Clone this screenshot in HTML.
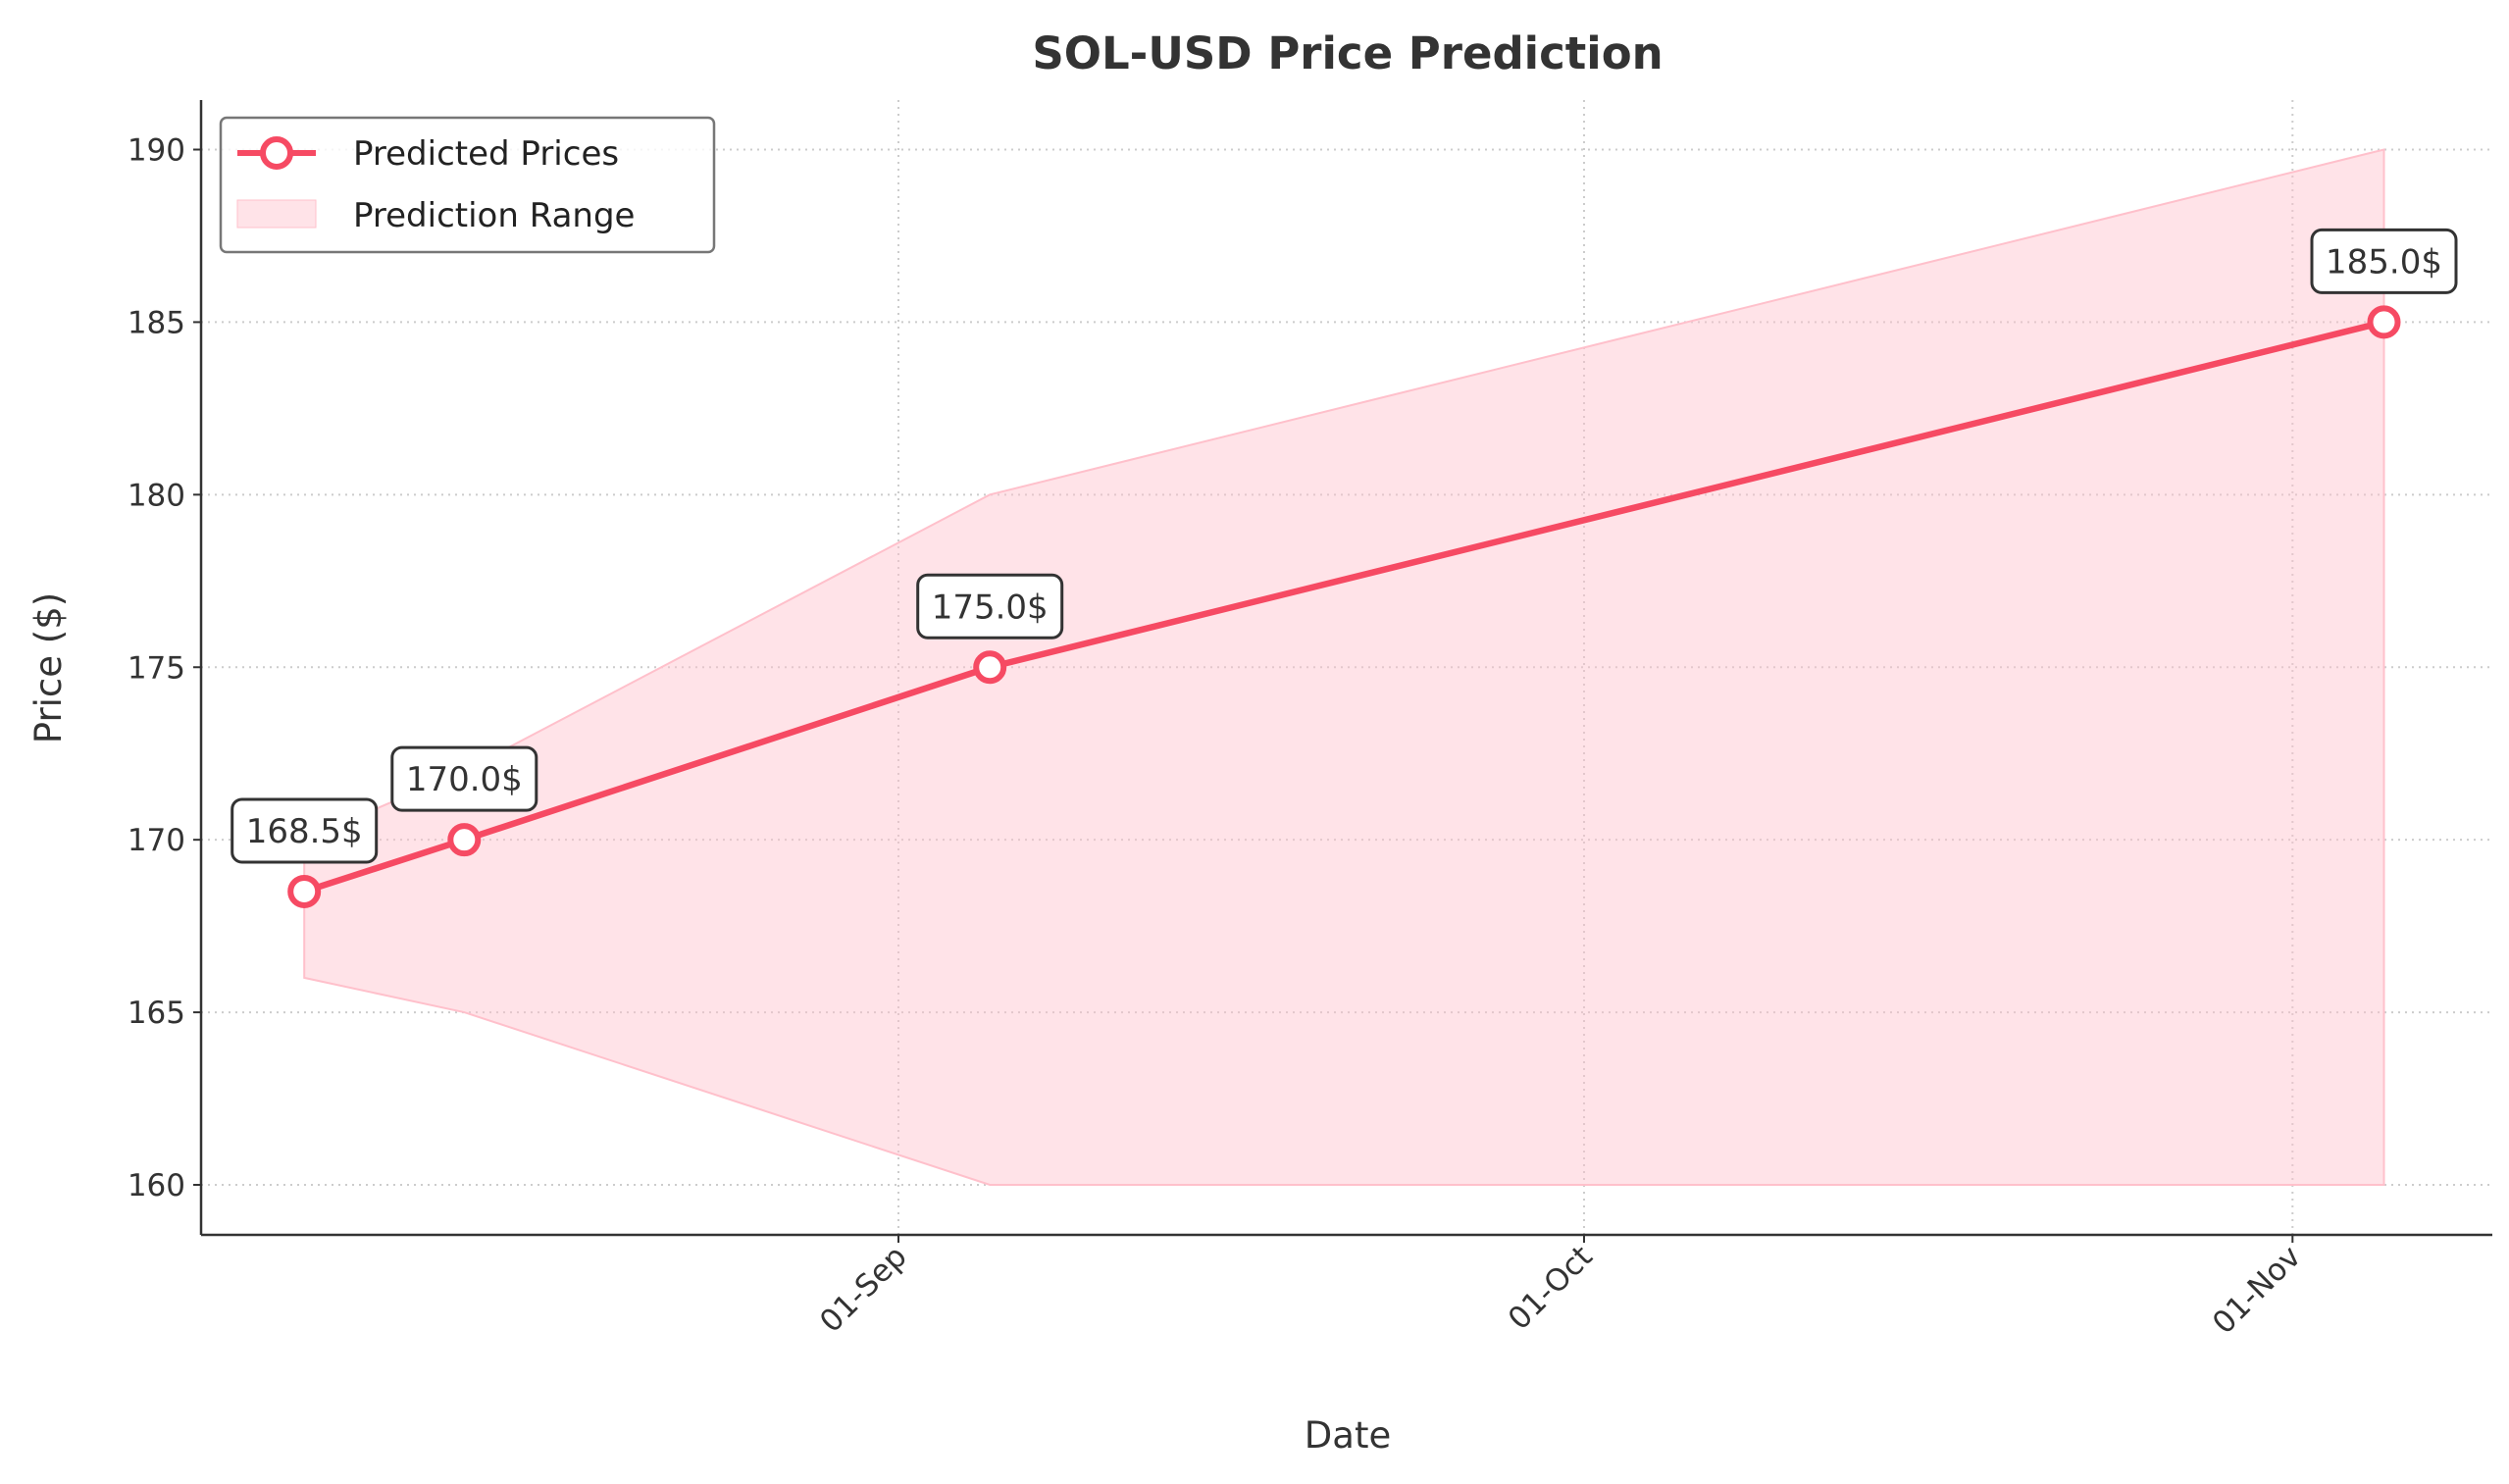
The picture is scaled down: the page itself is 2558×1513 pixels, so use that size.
<!DOCTYPE html>
<html><head><meta charset="utf-8"><style>
body{margin:0;background:#fff}
svg{display:block;font-family:"DejaVu Sans","Liberation Sans",sans-serif}
</style></head><body>
<svg id="chart" width="2558" height="1513" viewBox="0 0 2558 1513">
<text x="1374" y="70" text-anchor="middle" font-size="45" font-weight="bold" fill="#333">SOL-USD Price Prediction</text>
<g id="grid"></g>
<g id="band"></g>
<g id="line"></g>
<g id="axes"></g>
<text x="1374" y="1476" text-anchor="middle" font-size="37" fill="#333">Date</text>
<text transform="translate(62,681) rotate(-90)" text-anchor="middle" font-size="37" fill="#333">Price ($)</text>
<g>
<rect x="225" y="120" width="503" height="137" rx="6" fill="#fff" fill-opacity="0.8" stroke="#777" stroke-width="2.5"/>
<line x1="242" y1="156" x2="322" y2="156" stroke="#f64a63" stroke-width="6"/>
<circle cx="282" cy="156" r="14" fill="#fff" stroke="#f64a63" stroke-width="6"/>
<text x="360" y="168" font-size="34" fill="#222">Predicted Prices</text>
<rect x="242" y="204" width="80" height="28" fill="#ffc0cb" fill-opacity="0.45" stroke="#ffc0cb"/>
<text x="360" y="231" font-size="34" fill="#222">Prediction Range</text>
</g>
</svg>
<script>
const dates=["2024-08-06","2024-08-13","2024-09-05","2024-11-05"];
const prices=[168.5,170.0,175.0,185.0];
const lower=[166,165,160,160];
const upper=[170,172,180,190];
const yTicks=[160,165,170,175,180,185,190];
const xTickDates=["2024-09-01","2024-10-01","2024-11-01"];
const xTickLabels=["01-Sep","01-Oct","01-Nov"];
const NS="http://www.w3.org/2000/svg";
const L=205,R=2541,T=102,B=1259;
const d0=Date.parse("2024-09-01"),day=86400000;
function X(d){return 916+(Date.parse(d)-d0)/day*23.3;}
function Y(v){return 1208-(v-160)*(1208-152.5)/30;}
function mk(p,tag,a){const e=document.createElementNS(NS,tag);for(const k in a)e.setAttribute(k,a[k]);p.appendChild(e);return e;}
const grid=document.getElementById('grid'),axes=document.getElementById('axes');
yTicks.forEach(v=>{
 const g=mk(grid,'line',{x1:L,x2:R,y1:Y(v),y2:Y(v),stroke:'#ccc','stroke-width':2,'stroke-dasharray':'2,5'});
 
 
 mk(axes,'line',{x1:L-8,x2:L,y1:Y(v),y2:Y(v),stroke:'#333','stroke-width':2});
 const t=mk(axes,'text',{x:L-16,y:Y(v)+11,'text-anchor':'end','font-size':31,fill:'#333'});
 t.textContent=v;
 
 
});
xTickDates.forEach((d,i)=>{
 const x=X(d);
 const g=mk(grid,'line',{x1:x,x2:x,y1:T,y2:B,stroke:'#ccc','stroke-width':2,'stroke-dasharray':'2,5'});
 
 
 mk(axes,'line',{x1:x,x2:x,y1:B,y2:B+8,stroke:'#333','stroke-width':2});
 const t=mk(axes,'text',{transform:`translate(${x+10},${B+24}) rotate(-45)`,'text-anchor':'end','font-size':31,fill:'#333'});
 t.textContent=xTickLabels[i];
 
 
});
mk(axes,'line',{x1:L,x2:L,y1:T,y2:B,stroke:'#333','stroke-width':2.5});
mk(axes,'line',{x1:L,x2:R,y1:B,y2:B,stroke:'#333','stroke-width':2.5});
let pts=dates.map((d,i)=>X(d)+','+Y(upper[i]));
for(let i=dates.length-1;i>=0;i--)pts.push(X(dates[i])+','+Y(lower[i]));
const band=mk(document.getElementById('band'),'polygon',{points:pts.join(' '),fill:'#ffc0cb','fill-opacity':0.45,stroke:'#ffc0cb','stroke-width':2});


const lg=document.getElementById('line');
const pl=mk(lg,'polyline',{points:dates.map((d,i)=>X(d)+','+Y(prices[i])).join(' '),fill:'none',stroke:'#f64a63','stroke-width':6.5});


dates.forEach((d,i)=>{
 const x=X(d),y=Y(prices[i]);
 const c=mk(lg,'circle',{cx:x,cy:y,r:14,fill:'#fff',stroke:'#f64a63','stroke-width':6});
 
 
 const txt=prices[i].toFixed(1)+'$';
 const w=txt.length*19.5+30;
 const r=mk(lg,'rect',{x:x-w/2,y:y-94,width:w,height:64,rx:10,fill:'#fff',stroke:'#333','stroke-width':3});
 
 
 const t=mk(lg,'text',{x:x,y:y-50,'text-anchor':'middle','font-size':34,fill:'#333'});
 t.textContent=txt;
 
 
});
</script>
</body></html>
